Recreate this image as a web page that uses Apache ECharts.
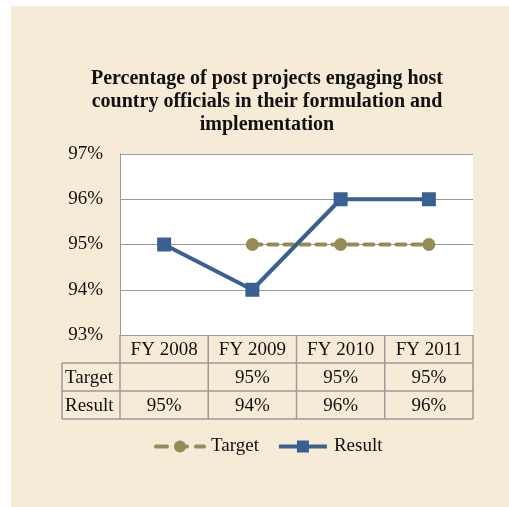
<!DOCTYPE html>
<html><head><meta charset="utf-8">
<style>html,body{margin:0;padding:0;background:#fff;}#c{width:509px;height:507px;}</style>
<script src="https://cdn.jsdelivr.net/npm/echarts@6/dist/echarts.min.js"></script>
</head><body><div id="c"></div>
<script>
const titleText = 'Percentage of post projects engaging host\ncountry officials in their formulation and\nimplementation';
const categories = ['FY 2008', 'FY 2009', 'FY 2010', 'FY 2011'];
const targetValues = [null, 95, 95, 95];
const resultValues = [95, 94, 96, 96];
const yTicks = [93, 94, 95, 96, 97];
const seriesNames = ['Target', 'Result'];

const FONT = 'Liberation Serif, Times New Roman, serif';
const GRAY = '#9a9a9a';
const BLUE = '#386192';
const OLIVE = '#958B57';

const chart = echarts.init(document.getElementById('c'));
const option = {
  backgroundColor: 'transparent',
  animation: false,
  title: {
    text: titleText, left: 262, textAlign: 'center', top: 62,
    textStyle: {fontFamily: FONT, fontSize: 20, fontWeight: 'bold', lineHeight: 23, color: '#111'}
  },
  grid: {left: 120, top: 154, right: 36, bottom: 172, containLabel: false,
         show: true, backgroundColor: '#fff', borderWidth: 0},
  xAxis: {
    type: 'category', data: categories, boundaryGap: true,
    axisLine: {show: true, lineStyle: {color: GRAY, width: 1}},
    axisTick: {show: false}, axisLabel: {show: false}, splitLine: {show: false}
  },
  yAxis: {
    type: 'value', min: yTicks[0], max: yTicks[yTicks.length - 1], interval: 1,
    axisLine: {show: true, lineStyle: {color: GRAY, width: 1}},
    axisTick: {show: false},
    splitLine: {show: true, lineStyle: {color: GRAY, width: 1}},
    axisLabel: {formatter: '{value}%', margin: 17, fontFamily: FONT, fontSize: 19, color: '#111'}
  },
  legend: {
    data: [
      {name: seriesNames[0], lineStyle: {width: 4, type: [11, 9], cap: 'round'}},
      {name: seriesNames[1], lineStyle: {width: 4}}
    ],
    bottom: 46, left: 149, itemWidth: 48, itemHeight: 15, itemGap: 18,
    textStyle: {fontFamily: FONT, fontSize: 19, color: '#111', padding: [0, 0, 0, 2]}
  },
  series: [
    {name: seriesNames[0], type: 'line', data: targetValues, connectNulls: false,
     symbol: 'circle', symbolSize: 13, itemStyle: {color: OLIVE},
     lineStyle: {color: OLIVE, width: 4, type: [9, 7], cap: 'round'}, z: 3},
    {name: seriesNames[1], type: 'line', data: resultValues,
     symbol: 'rect', symbolSize: 14, itemStyle: {color: BLUE},
     lineStyle: {color: BLUE, width: 4}, z: 4}
  ]
};
chart.setOption(option);

// Data table beneath the plot, positioned from the axis scales
function buildTable() {
  const n = categories.length;
  const yBottom = chart.convertToPixel({yAxisIndex: 0}, yTicks[0]);
  const centers = categories.map((c, i) => chart.convertToPixel({xAxisIndex: 0}, i));
  const half = (centers[1] - centers[0]) / 2;
  const bounds = [centers[0] - half].concat(centers.map(c => c + half));
  const rowH = 28;
  const r0 = yBottom, r1 = r0 + rowH, r2 = r1 + rowH, r3 = r2 + rowH;
  const tableLeft = 62;
  const els = [];
  els.push({type: 'rect', shape: {x: 11, y: 6, width: 498, height: 501}, style: {fill: '#F6EBD6'}, z: -10, silent: true});
  const line = (x1, y1, x2, y2) => els.push({type: 'line', shape: {x1, y1, x2, y2}, style: {stroke: GRAY, lineWidth: 1.5}, z: 10});
  bounds.forEach(x => line(x, r0, x, r3));
  line(tableLeft, r1, tableLeft, r3);
  line(tableLeft, r1, bounds[n], r1);
  line(tableLeft, r2, bounds[n], r2);
  line(tableLeft, r3, bounds[n], r3);
  const txt = (x, y, s, align) => els.push({type: 'text', x, y, style: {text: s, fontFamily: FONT, fontSize: 19, fill: '#111', align: align || 'center', verticalAlign: 'middle'}, z: 11});
  categories.forEach((c, i) => txt(centers[i], (r0 + r1) / 2 + 1, c));
  txt(tableLeft + 3, (r1 + r2) / 2 + 1, seriesNames[0], 'left');
  txt(tableLeft + 3, (r2 + r3) / 2 + 1, seriesNames[1], 'left');
  targetValues.forEach((v, i) => { if (v != null) txt(centers[i], (r1 + r2) / 2 + 1, v + '%'); });
  resultValues.forEach((v, i) => { if (v != null) txt(centers[i], (r2 + r3) / 2 + 1, v + '%'); });
  chart.setOption({graphic: els});
}
buildTable();
</script></body></html>
